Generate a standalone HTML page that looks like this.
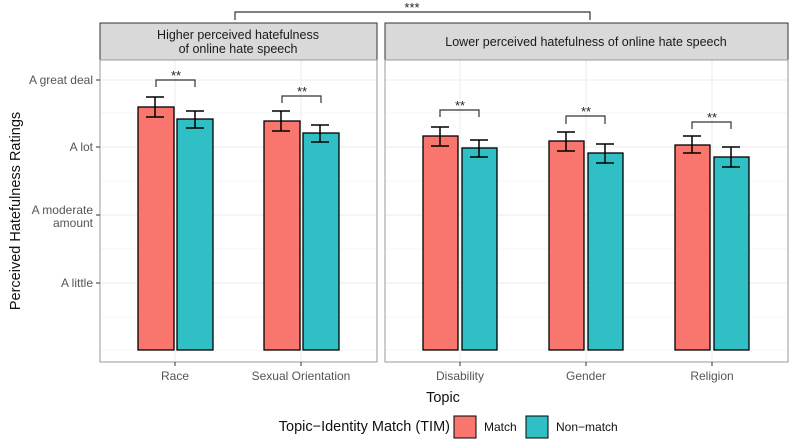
<!DOCTYPE html><html><head><style>body{margin:0;background:#fff}svg{display:block;font-family:"Liberation Sans",sans-serif}</style></head><body>
<svg width="800" height="448" viewBox="0 0 800 448">
<g stroke="#ebebeb" stroke-width="1">
<line x1="100" x2="377" y1="80" y2="80"/><line x1="100" x2="377" y1="147" y2="147"/><line x1="100" x2="377" y1="215" y2="215"/><line x1="100" x2="377" y1="283" y2="283"/>
<line x1="385" x2="788" y1="80" y2="80"/><line x1="385" x2="788" y1="147" y2="147"/><line x1="385" x2="788" y1="215" y2="215"/><line x1="385" x2="788" y1="283" y2="283"/>
<g stroke-width="0.6"><line x1="100" x2="377" y1="113" y2="113"/><line x1="100" x2="377" y1="181" y2="181"/><line x1="100" x2="377" y1="249" y2="249"/><line x1="100" x2="377" y1="317" y2="317"/><line x1="100" x2="377" y1="350" y2="350"/>
<line x1="385" x2="788" y1="113" y2="113"/><line x1="385" x2="788" y1="181" y2="181"/><line x1="385" x2="788" y1="249" y2="249"/><line x1="385" x2="788" y1="317" y2="317"/><line x1="385" x2="788" y1="350" y2="350"/></g>
<line x1="175" x2="175" y1="60" y2="362"/><line x1="301" x2="301" y1="60" y2="362"/><line x1="460" x2="460" y1="60" y2="362"/><line x1="586" x2="586" y1="60" y2="362"/><line x1="712" x2="712" y1="60" y2="362"/>
</g>
<g stroke="#000" stroke-width="1.3">
<rect x="138" y="107" width="36" height="243" fill="#F8766D"/><rect x="177" y="119" width="36" height="231" fill="#2FBFC4"/>
<rect x="264" y="121" width="36" height="229" fill="#F8766D"/><rect x="303" y="133" width="36" height="217" fill="#2FBFC4"/>
<rect x="423" y="136" width="35" height="214" fill="#F8766D"/><rect x="462" y="148" width="35" height="202" fill="#2FBFC4"/>
<rect x="549" y="141" width="35" height="209" fill="#F8766D"/><rect x="588" y="153" width="35" height="197" fill="#2FBFC4"/>
<rect x="675" y="145" width="35" height="205" fill="#F8766D"/><rect x="714" y="157" width="35" height="193" fill="#2FBFC4"/>
</g>
<g stroke="#000" stroke-width="1.5" fill="none">
<path d="M146 97h18M155 97v20M146 117h18"/><path d="M186 111h18M195 111v17M186 128h18"/>
<path d="M272 111h18M281 111v20M272 131h18"/><path d="M311 125h18M320 125v17M311 142h18"/>
<path d="M431 127h18M440 127v19M431 146h18"/><path d="M470 140h18M479 140v17M470 157h18"/>
<path d="M557 132h18M566 132v19M557 151h18"/><path d="M596 144h18M605 144v19M596 163h18"/>
<path d="M683 136h18M692 136v17M683 153h18"/><path d="M722 147h18M731 147v20M722 167h18"/>
</g>
<g stroke="#333" stroke-width="1.2" fill="none">
<path d="M156 87v-7h39v7"/><path d="M282 103v-7h39v7"/><path d="M440 117v-7h39v7"/><path d="M566 124v-8h39v8"/><path d="M692 129v-7h39v7"/><path d="M235 20v-8h355v8"/>
</g>
<g font-size="13" fill="#222" text-anchor="middle"><text x="176" y="80">**</text><text x="302" y="96">**</text><text x="460" y="110">**</text><text x="586" y="116">**</text><text x="712" y="122">**</text><text x="412" y="12">***</text></g>
<rect x="100" y="23" width="277" height="37" fill="#d9d9d9" stroke="#333" stroke-width="1"/>
<rect x="385" y="23" width="403" height="37" fill="#d9d9d9" stroke="#333" stroke-width="1"/>
<g font-size="12.5" fill="#1a1a1a" text-anchor="middle"><text x="238" y="39">Higher perceived hatefulness</text><text x="238" y="53">of online hate speech</text><text x="586" y="46">Lower perceived hatefulness of online hate speech</text></g>
<rect x="100" y="60" width="277" height="302" fill="none" stroke="#999"/>
<rect x="385" y="60" width="403" height="302" fill="none" stroke="#999"/>
<g stroke="#333"><line x1="96" x2="100" y1="80" y2="80"/><line x1="96" x2="100" y1="147" y2="147"/><line x1="96" x2="100" y1="215" y2="215"/><line x1="96" x2="100" y1="283" y2="283"/>
<line x1="175" x2="175" y1="362" y2="366"/><line x1="301" x2="301" y1="362" y2="366"/><line x1="460" x2="460" y1="362" y2="366"/><line x1="586" x2="586" y1="362" y2="366"/><line x1="712" x2="712" y1="362" y2="366"/></g>
<g font-size="12" fill="#555" text-anchor="end"><text x="93" y="84">A great deal</text><text x="93" y="151">A lot</text><text x="93" y="214">A moderate</text><text x="93" y="227">amount</text><text x="93" y="287">A little</text></g>
<g font-size="12" fill="#555" text-anchor="middle"><text x="175" y="380">Race</text><text x="301" y="380">Sexual Orientation</text><text x="460" y="380">Disability</text><text x="586" y="380">Gender</text><text x="712" y="380">Religion</text></g>
<text x="443" y="402" font-size="14.5" fill="#111" text-anchor="middle">Topic</text>
<text transform="translate(20,211) rotate(-90)" font-size="14.5" fill="#111" text-anchor="middle">Perceived Hatefulness Ratings</text>
<text x="450" y="431" font-size="14.5" fill="#111" text-anchor="end">Topic−Identity Match (TIM)</text>
<rect x="454" y="416" width="22" height="22" fill="#F8766D" stroke="#000"/>
<text x="484" y="431" font-size="12" fill="#111">Match</text>
<rect x="526" y="416" width="22" height="22" fill="#2FBFC4" stroke="#000"/>
<text x="556" y="431" font-size="12" fill="#111">Non−match</text>
</svg></body></html>
